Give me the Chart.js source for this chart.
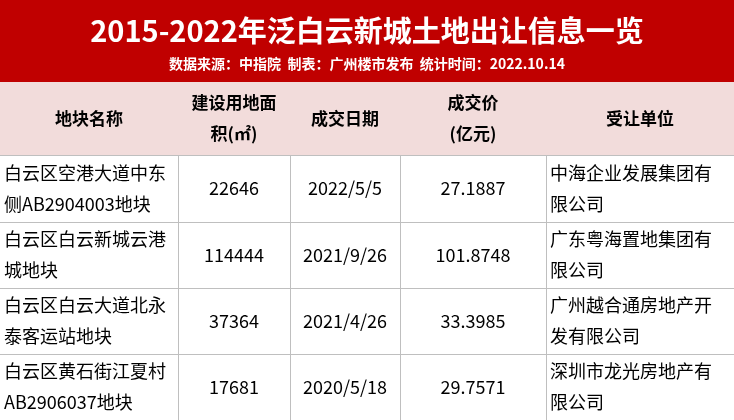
<!DOCTYPE html>
<html>
<head>
<meta charset="utf-8">
<script src="https://cdn.jsdelivr.net/npm/chart.js@4/dist/chart.umd.min.js"></script>
<style>
  html, body { margin: 0; padding: 0; background: #fff; }
  #wrap { width: 734px; height: 420px; }
</style>
</head>
<body>
<div id="wrap"><canvas id="tbl"></canvas></div>
<script>
const title = '2015-2022年泛白云新城土地出让信息一览';
const subtitle = '数据来源：中指院  制表：广州楼市发布  统计时间：2022.10.14';
const headers = ['地块名称', '建设用地面\n积(㎡)', '成交日期', '成交价\n(亿元)', '受让单位'];
const plots = ['白云区空港大道中东\n侧AB2904003地块', '白云区白云新城云港\n城地块', '白云区白云大道北永\n泰客运站地块', '白云区黄石街江夏村\nAB2906037地块'];
const areas = ['22646', '114444', '37364', '17681'];
const dates = ['2022/5/5', '2021/9/26', '2021/4/26', '2020/5/18'];
const prices = ['27.1887', '101.8748', '33.3985', '29.7571'];
const buyers = ['中海企业发展集团有\n限公司', '广东粤海置地集团有\n限公司', '广州越合通房地产开\n发有限公司', '深圳市龙光房地产有\n限公司'];

// column edges in x-scale units, row edges in y-scale units
const colEdges = [0, 178, 290, 400, 546, 734];
const rowEdges = [0, 82, 155, 222, 288, 354, 420];
const colAlign = ['left', 'center', 'center', 'center', 'left'];
const FONT = '"Noto Sans CJK SC", "Noto Sans", sans-serif';

const tablePlugin = {
  id: 'tablePlugin',
  afterDraw(chart) {
    const c = chart.ctx, xs = chart.scales.x, ys = chart.scales.y;
    const X = v => xs.getPixelForValue(v), Y = v => ys.getPixelForValue(v);
    c.save();
    // title band
    c.fillStyle = '#c00000';
    c.fillRect(X(0), Y(0), X(734) - X(0), Y(82) - Y(0));
    c.fillStyle = '#fff';
    c.textAlign = 'center';
    c.textBaseline = 'middle';
    c.font = 'bold 29px ' + FONT;
    c.fillText(title, X(367), Y(31));
    c.font = 'bold 14px ' + FONT;
    c.fillText(subtitle, X(367), Y(64));
    // header band
    c.fillStyle = '#f2dcdb';
    c.fillRect(X(0), Y(82), X(734) - X(0), Y(155) - Y(82));

    const rows = [headers];
    plots.forEach((p, i) => rows.push([p, areas[i], dates[i], prices[i], buyers[i]]));
    rows.forEach((row, r) => {
      const top = Y(rowEdges[r + 1]), bot = Y(rowEdges[r + 2]);
      row.forEach((txt, k) => {
        const l = X(colEdges[k]), rr = X(colEdges[k + 1]);
        const lines = txt.split('\n');
        c.fillStyle = '#000';
        c.font = (r === 0 ? 'bold 17px ' : '18px ') + FONT;
        const lh = 31;
        const mid = (top + bot) / 2;
        lines.forEach((ln, j) => {
          const y = mid + (j - (lines.length - 1) / 2) * lh;
          let al = r === 0 ? 'center' : colAlign[k];
          c.textAlign = al;
          c.fillText(ln, al === 'left' ? l + 4 : (l + rr) / 2, y);
        });
      });
    });
    // grid
    c.strokeStyle = '#bfbfbf';
    c.lineWidth = 1;
    for (let r = 2; r < rowEdges.length - 1; r++) {
      c.beginPath(); c.moveTo(X(0), Y(rowEdges[r]) + 0.5); c.lineTo(X(734), Y(rowEdges[r]) + 0.5); c.stroke();
    }
    for (let k = 1; k < colEdges.length - 1; k++) {
      c.beginPath(); c.moveTo(X(colEdges[k]) + 0.5, Y(155)); c.lineTo(X(colEdges[k]) + 0.5, Y(420)); c.stroke();
    }
    c.restore();
  }
};

new Chart(document.getElementById('tbl'), {
  type: 'scatter',
  data: { datasets: [{ data: [] }] },
  options: {
    responsive: true,
    maintainAspectRatio: false,
    animation: false,
    layout: { padding: 0 },
    plugins: { legend: { display: false }, tooltip: { enabled: false } },
    scales: {
      x: { type: 'linear', min: 0, max: 734, display: false },
      y: { type: 'linear', min: 0, max: 420, reverse: true, display: false }
    }
  },
  plugins: [tablePlugin]
});
</script>
</body>
</html>
